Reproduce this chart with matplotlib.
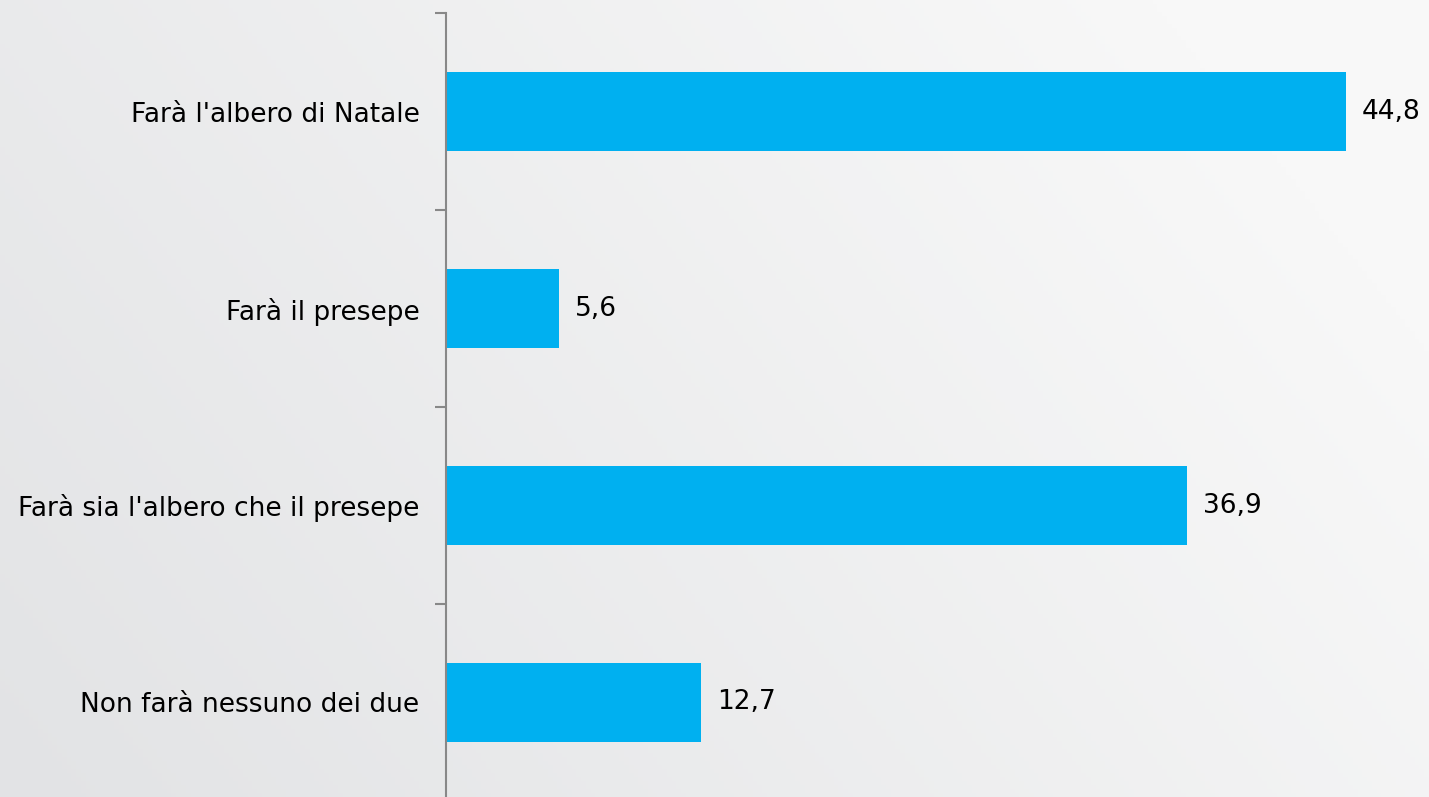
import numpy as np
from matplotlib import pyplot as plt
from matplotlib.colors import LinearSegmentedColormap

categories = ["Farà l'albero di Natale", "Farà il presepe",
              "Farà sia l'albero che il presepe", "Non farà nessuno dei due"]
values = [44.8, 5.6, 36.9, 12.7]
value_labels = ["44,8", "5,6", "36,9", "12,7"]

fig = plt.figure(figsize=(14.29, 7.97), dpi=100)

# background gradient (gray on the left/bottom, near white on the right/top)
bg = fig.add_axes([0, 0, 1, 1], zorder=0)
gx, gy = np.meshgrid(np.linspace(0, 1, 300), np.linspace(0, 1, 200))
grad = np.clip(0.8 * gx + 0.35 * gy, 0, 1)
cmap = LinearSegmentedColormap.from_list("bg", ["#e2e3e5", "#f8f8f8"])
bg.imshow(grad, cmap=cmap, aspect='auto', origin='lower', extent=[0, 1, 0, 1])
bg.axis('off')

ax = fig.add_axes([446 / 1429, -4 / 797, 1 - 446 / 1429, 788 / 797], zorder=1)
ax.patch.set_alpha(0)
y = np.arange(len(categories))
ax.barh(y, values, height=0.4, color='#00b0f0')
ax.set_ylim(len(categories) - 0.5, -0.5)
ax.set_xlim(0, (1429 - 446) / 20.09)
ax.set_yticks(np.arange(-0.5, len(categories), 1.0))
ax.set_yticklabels([])
ax.set_yticks(y, minor=True)
ax.set_yticklabels(categories, minor=True, fontsize=19, color='black')
ax.tick_params(axis='y', which='major', length=8, width=1.5, color='#888888', direction='out')
ax.tick_params(axis='y', which='minor', length=0, pad=19)
ax.set_xticks([])
for s in ['top', 'right', 'bottom']:
    ax.spines[s].set_visible(False)
ax.spines['left'].set_color('#888888')
ax.spines['left'].set_linewidth(1.5)

for yi, v, lab in zip(y, values, value_labels):
    ax.annotate(lab, (v, yi), xytext=(16, 0), textcoords='offset pixels',
                va='center', ha='left', fontsize=19, color='black')

fig.savefig('out.png', dpi=100)
